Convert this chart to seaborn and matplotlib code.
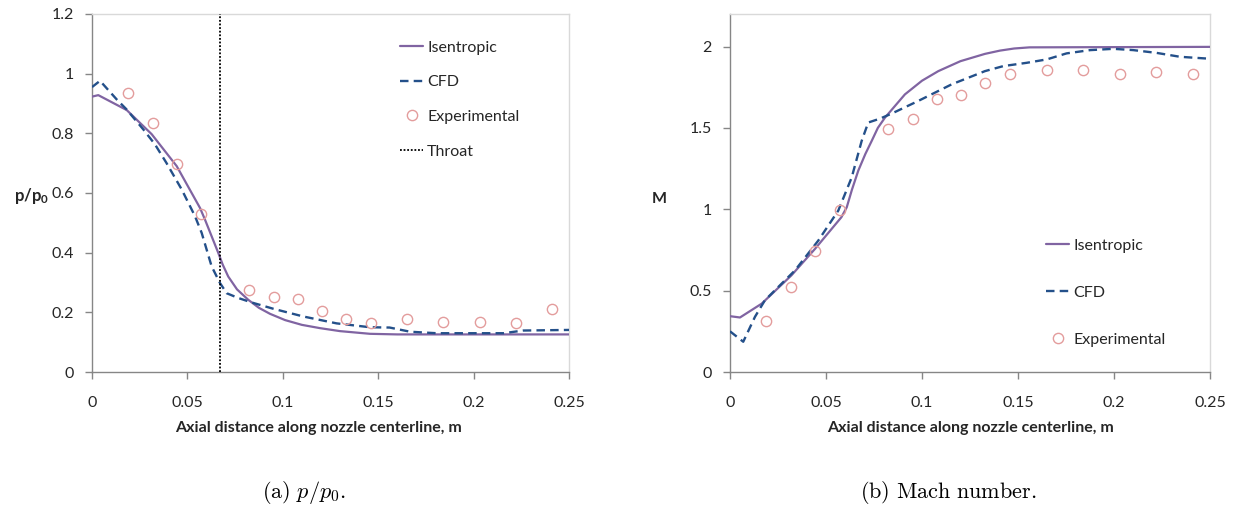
import matplotlib
matplotlib.use("Agg")
import matplotlib.pyplot as plt
from matplotlib.lines import Line2D
from matplotlib.ticker import FuncFormatter, MultipleLocator
import seaborn as sns

# ---- pressure ratio along the nozzle centreline ----
p_isen_x = [0.0, 0.0033, 0.0182, 0.0313, 0.0444, 0.0566, 0.0592, 0.0662, 0.0685,
            0.0714, 0.076, 0.0819, 0.0875, 0.0933, 0.1012, 0.11, 0.1195, 0.13,
            0.1457, 0.16, 0.25]
p_isen_y = [0.923, 0.928, 0.878, 0.797, 0.690, 0.550, 0.511, 0.399, 0.360,
            0.320, 0.277, 0.242, 0.215, 0.195, 0.174, 0.158, 0.147, 0.137,
            0.128, 0.126, 0.126]

p_cfd_x = [0.0, 0.0042, 0.0129, 0.018, 0.0269, 0.033, 0.039, 0.047, 0.054, 0.0575,
           0.0627, 0.0671, 0.0706, 0.0767, 0.0837, 0.095, 0.1108, 0.1282, 0.1457,
           0.156, 0.1667, 0.1806, 0.2156, 0.226, 0.25]
p_cfd_y = [0.955, 0.976, 0.914, 0.881, 0.813, 0.763, 0.701, 0.612, 0.522, 0.466,
           0.354, 0.298, 0.264, 0.248, 0.233, 0.212, 0.186, 0.163, 0.150,
           0.149, 0.135, 0.130, 0.130, 0.139, 0.141]

exp_x = [0.019, 0.032, 0.0445, 0.0573, 0.0825, 0.0952, 0.108, 0.1205, 0.133,
         0.146, 0.165, 0.184, 0.2033, 0.222, 0.2412]
p_exp_y = [0.934, 0.834, 0.698, 0.528, 0.276, 0.251, 0.245, 0.203, 0.178,
           0.164, 0.177, 0.167, 0.166, 0.165, 0.212]

throat_x = 0.067

# ---- Mach number along the nozzle centreline ----
m_isen_x = [0.0, 0.0052, 0.0165, 0.032, 0.0443, 0.058, 0.0608, 0.0635, 0.0668,
            0.0705, 0.0738, 0.077, 0.0807, 0.0911, 0.1, 0.1085, 0.12, 0.1328,
            0.1406, 0.148, 0.156, 0.25]
m_isen_y = [0.343, 0.335, 0.420, 0.594, 0.757, 0.951, 1.012, 1.120, 1.237,
            1.340, 1.420, 1.500, 1.563, 1.706, 1.790, 1.849, 1.910, 1.955,
            1.975, 1.988, 1.995, 1.998]

m_cfd_x = [0.0, 0.0069, 0.013, 0.0182, 0.0339, 0.046, 0.0564, 0.0634, 0.0686,
           0.072, 0.0781, 0.0842, 0.0981, 0.1155, 0.1328, 0.1424, 0.1545, 0.165,
           0.1753, 0.1875, 0.1997, 0.2101, 0.2222, 0.2344, 0.25]
m_cfd_y = [0.250, 0.186, 0.339, 0.441, 0.625, 0.808, 0.992, 1.196, 1.421,
           1.533, 1.557, 1.588, 1.666, 1.768, 1.849, 1.880, 1.900, 1.921,
           1.958, 1.978, 1.986, 1.978, 1.961, 1.937, 1.925]

m_exp_y = [0.312, 0.523, 0.741, 0.996, 1.492, 1.553, 1.680, 1.700, 1.778,
           1.833, 1.853, 1.853, 1.833, 1.845, 1.833]

# ---- styling ----
sns.set_theme(style="white")
plt.rcParams["font.family"] = ["Lato", "DejaVu Sans"]
plt.rcParams["mathtext.fontset"] = "custom"
plt.rcParams["mathtext.rm"] = "Lato"
plt.rcParams["mathtext.bf"] = "Lato:bold"
plt.rcParams["mathtext.it"] = "Lato:italic"

C_ISEN = "#8064A2"
C_CFD = "#24508A"
C_EXP = "#E39C9C"
AX_GRAY = "#868686"
BORDER = "#D9D9D9"
TXT = "#262626"
FS = 11.5

fig = plt.figure(figsize=(12.34, 5.12), dpi=100)
H = 358 / 512
B = 140 / 512
ax1 = fig.add_axes([92 / 1234, B, 477 / 1234, H])
ax2 = fig.add_axes([730 / 1234, B, 480 / 1234, H])

fmt = FuncFormatter(lambda v, _: f"{v:g}")

def style_axes(ax, ymax, ystep):
    ax.set_xlim(0, 0.25)
    ax.set_ylim(0, ymax)
    ax.xaxis.set_major_locator(MultipleLocator(0.05))
    ax.yaxis.set_major_locator(MultipleLocator(ystep))
    ax.xaxis.set_major_formatter(fmt)
    ax.yaxis.set_major_formatter(fmt)
    for side in ("left", "bottom"):
        ax.spines[side].set_color(AX_GRAY)
        ax.spines[side].set_linewidth(1.0)
    for side in ("top", "right"):
        ax.spines[side].set_color(BORDER)
        ax.spines[side].set_linewidth(1.0)
    ax.tick_params(axis="both", direction="out", length=5, width=1,
                   color=AX_GRAY, labelsize=FS, labelcolor=TXT)
    ax.tick_params(axis="x", pad=12)
    ax.tick_params(axis="y", pad=8)
    ax.tick_params(left=True, bottom=True)

def draw(ax, ix, iy, cx, cy, ey):
    sns.lineplot(x=ix, y=iy, ax=ax, color=C_ISEN, lw=1.6, estimator=None,
                 sort=False, zorder=3)
    sns.lineplot(x=cx, y=cy, ax=ax, color=C_CFD, lw=1.7, estimator=None,
                 sort=False, linestyle=(0, (3.6, 2.2)), zorder=4)
    sns.lineplot(x=exp_x, y=ey, ax=ax, color=C_EXP, linestyle="", marker="o",
                 markersize=7.4, markerfacecolor="none", markeredgecolor=C_EXP,
                 markeredgewidth=1.0, estimator=None, sort=False, zorder=5)

draw(ax1, p_isen_x, p_isen_y, p_cfd_x, p_cfd_y, p_exp_y)
ax1.axvline(throat_x, color="black", lw=1.3, linestyle=(0, (1, 1)), zorder=6)
style_axes(ax1, 1.2, 0.2)

draw(ax2, m_isen_x, m_isen_y, m_cfd_x, m_cfd_y, m_exp_y)
style_axes(ax2, 2.2, 0.5)

h_isen = Line2D([], [], color=C_ISEN, lw=1.6)
h_cfd = Line2D([], [], color=C_CFD, lw=1.7, linestyle=(0, (3.6, 2.2)))
h_exp = Line2D([], [], color=C_EXP, linestyle="", marker="o", markersize=7.4,
               markerfacecolor="none", markeredgewidth=1.0)
h_thr = Line2D([], [], color="black", lw=1.3, linestyle=(0, (1, 1)))

leg_kw = dict(frameon=False, loc="upper left", borderpad=0, borderaxespad=0,
              handlelength=1.45, handletextpad=0.25, fontsize=FS,
              labelcolor=TXT)
ax1.legend([h_isen, h_cfd, h_exp, h_thr],
           ["Isentropic", "CFD", "Experimental", "Throat"],
           bbox_to_anchor=((400 - 92) / 477, (372 - 40.5) / 358),
           labelspacing=1.28, **leg_kw)
ax2.legend([h_isen, h_cfd, h_exp], ["Isentropic", "CFD", "Experimental"],
           bbox_to_anchor=((1046 - 730) / 480, (372 - 238.5) / 358),
           labelspacing=2.05, **leg_kw)

# axis titles
xlab = "Axial distance along nozzle centerline, m"
ax1.set_xlabel(xlab, fontsize=FS, fontweight="bold", color=TXT)
ax1.xaxis.set_label_coords((318 - 92) / 477, (372 - 428) / 358)
ax1.xaxis.label.set_va("center")
ax2.set_xlabel(xlab, fontsize=FS, fontweight="bold", color=TXT)
ax2.xaxis.set_label_coords(0.5, (372 - 428) / 358)
ax2.xaxis.label.set_va("center")

ax1.set_ylabel(r"$\mathbf{p/p_0}$", fontsize=FS + 0.5, rotation=0,
               ha="right", va="center", color=TXT)
ax1.yaxis.set_label_coords((49 - 92) / 477, (372 - 196) / 358)
ax2.set_ylabel("M", fontsize=FS, fontweight="bold", rotation=0,
               ha="center", va="center", color=TXT)
ax2.yaxis.set_label_coords((659 - 730) / 480, (372 - 199) / 358)

# sub-figure captions
fig.text(304 / 1234, 1 - 493 / 512, r"$\mathrm{(a)}\ p/p_0.$", ha="center",
         va="center", fontsize=16, math_fontfamily="cm", color="black")
fig.text(948 / 1234, 1 - 493 / 512, r"$\mathrm{(b)\ Mach\ number.}$",
         ha="center", va="center", fontsize=16, math_fontfamily="cm",
         color="black")

fig.savefig("out.png", dpi=100, facecolor="white")
